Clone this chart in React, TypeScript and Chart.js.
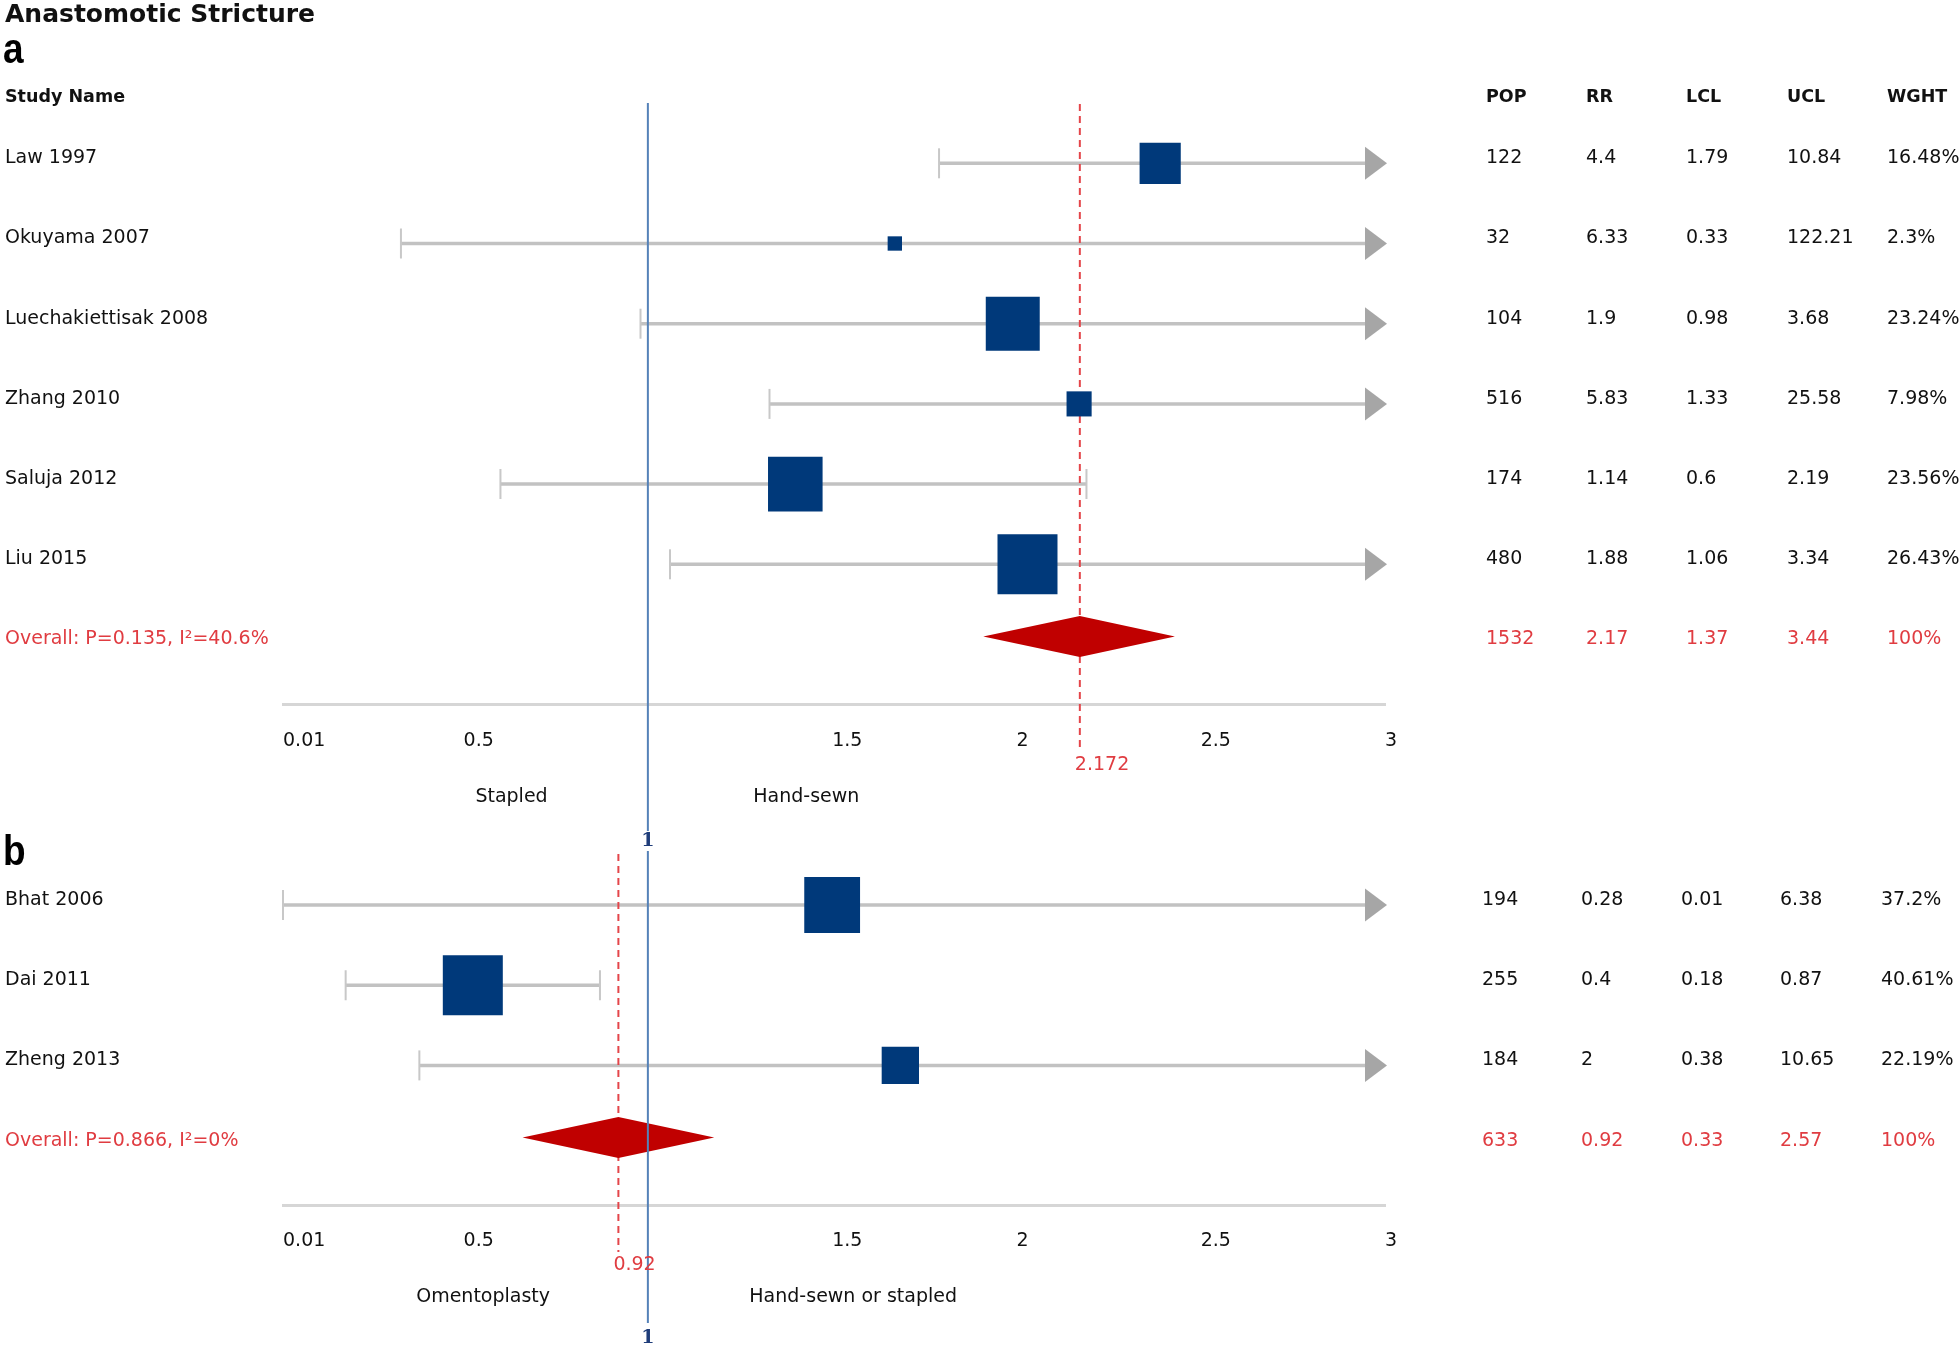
import React, { useEffect, useRef } from 'react';
import { Chart, registerables } from 'chart.js';

Chart.register(...registerables);

const FONT = '"DejaVu Sans", "Liberation Sans", sans-serif';
const LETTER_FONT = '"Liberation Sans", Arial, sans-serif';

// ---------- shared axis ----------
const chartTitle = 'Anastomotic Stricture';
const tickValues = [0.01, 0.5, 1.5, 2, 2.5, 3];
const tickLabels = ['0.01', '0.5', '1.5', '2', '2.5', '3'];
const axisMin = 0.01;
const axisMax = 3;
const nullValue = 1;
const nullLabel = '1';
const columnHeaders = ['Study Name', 'POP', 'RR', 'LCL', 'UCL', 'WGHT'];

// ---------- panel a ----------
const namesA = ['Law 1997', 'Okuyama 2007', 'Luechakiettisak 2008', 'Zhang 2010', 'Saluja 2012', 'Liu 2015'];
const popA = [122, 32, 104, 516, 174, 480];
const rrA = [4.4, 6.33, 1.9, 5.83, 1.14, 1.88];
const lclA = [1.79, 0.33, 0.98, 1.33, 0.6, 1.06];
const uclA = [10.84, 122.21, 3.68, 25.58, 2.19, 3.34];
const wghtA = [16.48, 2.3, 23.24, 7.98, 23.56, 26.43];
const markerA = [2.39, 1.67, 1.99, 2.17, 1.4, 2.03]; // plotted square positions
const overallA = ['Overall: P=0.135, I²=40.6%', '1532', '2.17', '1.37', '3.44', '100%'];
const pooledA = 2.172;
const pooledLabelA = '2.172';
const diamondA = [1.91, 2.43];
const sideLabelsA = ['Stapled', 'Hand-sewn'];
const sideLabelXA = [0.63, 1.43];

// ---------- panel b ----------
const namesB = ['Bhat 2006', 'Dai 2011', 'Zheng 2013'];
const popB = [194, 255, 184];
const rrB = [0.28, 0.4, 2];
const lclB = [0.01, 0.18, 0.38];
const uclB = [6.38, 0.87, 10.65];
const wghtB = [37.2, 40.61, 22.19];
const markerB = [1.5, 0.525, 1.685];
const overallB = ['Overall: P=0.866, I²=0%', '633', '0.92', '0.33', '2.57', '100%'];
const pooledB = 0.92;
const pooledLabelB = '0.92';
const diamondB = [0.66, 1.18];
const sideLabelsB = ['Omentoplasty', 'Hand-sewn or stapled'];
const sideLabelXB = [0.553, 1.557];

// ---------- layout ----------
const W = 1959;
const ROW_STEP = 80.2;
const X_AXIS_H = 70;
const PLOT_LEFT = 283;
const PLOT_RIGHT = 1385;
const TEXT_DY = -5;

type PanelCfg = {
  letter: string;
  names: string[];
  pop: number[];
  rr: number[];
  lcl: number[];
  ucl: number[];
  wght: number[];
  marker: number[];
  overall: string[];
  pooled: number;
  pooledLabel: string;
  diamond: number[];
  sideLabels: string[];
  sideLabelX: number[];
  top: number;
  height: number;
  rowPx0: number;
  axisPx: number;
  yMin: number;
  colX: number[];
  header: boolean;
  letterBase: number;
  refTop: number;
  refBottom: number;
  oneLabelY: number;
  pooledTop: number;
  pooledBottom: number;
  pooledLabelY: number;
  sideLabelY: number;
};

const panelA: PanelCfg = {
  letter: 'a', names: namesA, pop: popA, rr: rrA, lcl: lclA, ucl: uclA, wght: wghtA, marker: markerA,
  overall: overallA, pooled: pooledA, pooledLabel: pooledLabelA, diamond: diamondA,
  sideLabels: sideLabelsA, sideLabelX: sideLabelXA,
  top: 0, height: 852, rowPx0: 163.3, axisPx: 704.7, yMin: -1,
  colX: [5, 1486, 1586, 1686, 1787, 1887], header: true, letterBase: 63,
  refTop: 103, refBottom: 831, oneLabelY: 841,
  pooledTop: 104, pooledBottom: 751, pooledLabelY: 765, sideLabelY: 797,
};

const panelB: PanelCfg = {
  letter: 'b', names: namesB, pop: popB, rr: rrB, lcl: lclB, ucl: uclB, wght: wghtB, marker: markerB,
  overall: overallB, pooled: pooledB, pooledLabel: pooledLabelB, diamond: diamondB,
  sideLabels: sideLabelsB, sideLabelX: sideLabelXB,
  top: 820, height: 532, rowPx0: 905, axisPx: 1205, yMin: -0.7,
  colX: [5, 1482, 1581, 1681, 1780, 1881], header: false, letterBase: 865,
  refTop: 851, refBottom: 1323, oneLabelY: 1338,
  pooledTop: 854, pooledBottom: 1252, pooledLabelY: 1265, sideLabelY: 1297,
};

function text(ctx: CanvasRenderingContext2D, s: string, x: number, y: number, font: string, color: string, align: CanvasTextAlign = 'left') {
  ctx.font = font;
  ctx.fillStyle = color;
  ctx.textAlign = align;
  ctx.textBaseline = 'middle';
  ctx.fillText(s, x, y);
}

function forestPlugin(c: PanelCfg) {
  const off = c.top;
  return {
    id: 'forest_' + c.letter,
    beforeDatasetsDraw(chart: any) {
      const ctx: CanvasRenderingContext2D = chart.ctx;
      const xs = chart.scales.x;
      const ys = chart.scales.y;
      ctx.save();
      for (let i = 0; i < c.names.length; i++) {
        const y = ys.getPixelForValue(i);
        const xLo = xs.getPixelForValue(Math.max(c.lcl[i], axisMin));
        const clipped = c.ucl[i] > axisMax;
        const xHi = xs.getPixelForValue(Math.min(c.ucl[i], axisMax));
        ctx.strokeStyle = '#c2c2c2';
        ctx.lineWidth = 3.5;
        ctx.beginPath();
        ctx.moveTo(xLo, y);
        ctx.lineTo(clipped ? xHi - 18 : xHi, y);
        ctx.stroke();
        ctx.strokeStyle = '#c8c8c8';
        ctx.lineWidth = 2;
        ctx.beginPath();
        ctx.moveTo(xLo, y - 15);
        ctx.lineTo(xLo, y + 15);
        if (!clipped) {
          ctx.moveTo(xHi, y - 15);
          ctx.lineTo(xHi, y + 15);
        }
        ctx.stroke();
        if (clipped) {
          ctx.fillStyle = '#a6a6a6';
          ctx.beginPath();
          ctx.moveTo(xHi - 20, y - 16.5);
          ctx.lineTo(xHi + 2, y);
          ctx.lineTo(xHi - 20, y + 16.5);
          ctx.closePath();
          ctx.fill();
        }
      }
      const xp = xs.getPixelForValue(c.pooled);
      ctx.strokeStyle = '#e4454a';
      ctx.lineWidth = 2;
      ctx.setLineDash([7, 5]);
      ctx.beginPath();
      ctx.moveTo(xp, c.pooledTop - off);
      ctx.lineTo(xp, c.pooledBottom - off);
      ctx.stroke();
      ctx.setLineDash([]);
      ctx.restore();
    },
    afterDatasetsDraw(chart: any) {
      const ctx: CanvasRenderingContext2D = chart.ctx;
      const xs = chart.scales.x;
      const ys = chart.scales.y;
      const n = c.names.length;
      ctx.save();
      // pooled diamond
      const yD = ys.getPixelForValue(n) - 8;
      const xl = xs.getPixelForValue(c.diamond[0]);
      const xr = xs.getPixelForValue(c.diamond[1]);
      const xc = xs.getPixelForValue(c.pooled);
      ctx.fillStyle = '#c00000';
      ctx.beginPath();
      ctx.moveTo(xl, yD);
      ctx.lineTo(xc, yD - 20.5);
      ctx.lineTo(xr, yD);
      ctx.lineTo(xc, yD + 20.5);
      ctx.closePath();
      ctx.fill();
      // line of no effect
      const x1 = xs.getPixelForValue(nullValue);
      ctx.strokeStyle = '#5582b8';
      ctx.lineWidth = 2;
      ctx.beginPath();
      ctx.moveTo(x1, c.refTop - off);
      ctx.lineTo(x1, c.refBottom - off);
      ctx.stroke();
      text(ctx, nullLabel, x1, c.oneLabelY - off, `bold 19px "DejaVu Serif", serif`, '#1f3d7a', 'center');
      // pooled label
      text(ctx, c.pooledLabel, xc - 5, c.pooledLabelY - off, `19px ${FONT}`, '#e03c41', 'left');
      // side labels
      c.sideLabels.forEach((s, i) => {
        text(ctx, s, xs.getPixelForValue(c.sideLabelX[i]), c.sideLabelY - off, `19px ${FONT}`, '#111', 'center');
      });
      // letter
      ctx.save();
      ctx.font = `bold 43px ${LETTER_FONT}`;
      ctx.fillStyle = '#000';
      ctx.textAlign = 'left';
      ctx.textBaseline = 'alphabetic';
      ctx.translate(3, c.letterBase - off);
      ctx.scale(0.86, 1);
      ctx.fillText(c.letter, 0, 0);
      ctx.restore();
      if (c.header) {
        text(ctx, chartTitle, 5, 15 - off, `bold 25px ${FONT}`, '#111', 'left');
        const yh = ys.getPixelForValue(0) - 66;
        columnHeaders.forEach((h, j) => text(ctx, h, c.colX[j], yh, `bold 17.5px ${FONT}`, '#111', 'left'));
      }
      // rows
      for (let i = 0; i < n; i++) {
        const y = ys.getPixelForValue(i) + TEXT_DY;
        const cells = [c.names[i], String(c.pop[i]), String(c.rr[i]), String(c.lcl[i]), String(c.ucl[i]), c.wght[i] + '%'];
        cells.forEach((s, j) => text(ctx, s, c.colX[j], y, `19px ${FONT}`, '#111', 'left'));
      }
      const yo = ys.getPixelForValue(n) + TEXT_DY;
      c.overall.forEach((s, j) => text(ctx, s, c.colX[j], yo, `19px ${FONT}`, '#e03c41', 'left'));
      ctx.restore();
    },
  };
}

function buildConfig(c: PanelCfg): any {
  const maxW = Math.max(...c.wght);
  const rowPx0 = c.rowPx0 - c.top;
  const axisPx = c.axisPx - c.top;
  const padTop = rowPx0 + c.yMin * ROW_STEP;
  const yMax = (axisPx - rowPx0) / ROW_STEP;
  const padBottom = c.height - X_AXIS_H - axisPx;
  const radii = c.wght.map((w) => (10 + (50 * w) / maxW) / (2 * Math.SQRT1_2));
  return {
    type: 'scatter',
    data: {
      datasets: [
        {
          data: c.marker.map((x, i) => ({ x, y: i })),
          pointStyle: 'rect',
          pointRadius: radii,
          pointHoverRadius: radii,
          backgroundColor: '#00397a',
          borderWidth: 0,
          pointBorderWidth: 0,
          clip: false,
        },
      ],
    },
    options: {
      animation: false,
      responsive: false,
      maintainAspectRatio: false,
      events: [],
      layout: { autoPadding: false, padding: { left: PLOT_LEFT, right: W - PLOT_RIGHT, top: padTop, bottom: padBottom } },
      plugins: { legend: { display: false }, tooltip: { enabled: false }, title: { display: false } },
      scales: {
        x: {
          type: 'linear',
          min: axisMin,
          max: axisMax,
          afterBuildTicks: (s: any) => {
            s.ticks = tickValues.map((v) => ({ value: v }));
          },
          afterFit: (s: any) => {
            s.height = X_AXIS_H;
          },
          grid: { display: false, drawTicks: false },
          border: { display: true, color: '#d6d6d6', width: 3 },
          ticks: {
            align: 'start',
            padding: 25,
            autoSkip: false,
            maxRotation: 0,
            color: '#111',
            font: { family: FONT, size: 19 },
            callback: (_v: any, i: number) => tickLabels[i],
          },
        },
        y: {
          type: 'linear',
          reverse: true,
          min: c.yMin,
          max: yMax,
          display: false,
        },
      },
    },
    plugins: [forestPlugin(c)],
  };
}

function ForestPanel({ cfg }: { cfg: PanelCfg }) {
  const ref = useRef<HTMLCanvasElement | null>(null);
  useEffect(() => {
    const chart = new Chart(ref.current as HTMLCanvasElement, buildConfig(cfg));
    return () => chart.destroy();
  }, [cfg]);
  return (
    <canvas
      ref={ref}
      width={W}
      height={cfg.height}
      style={{ position: 'absolute', left: 0, top: cfg.top, width: W, height: cfg.height, display: 'block' }}
    />
  );
}

export default function App() {
  return (
    <div style={{ position: 'absolute', left: 0, top: 0, width: W, height: 1352, background: '#fff', overflow: 'hidden' }}>
      <ForestPanel cfg={panelA} />
      <ForestPanel cfg={panelB} />
    </div>
  );
}
